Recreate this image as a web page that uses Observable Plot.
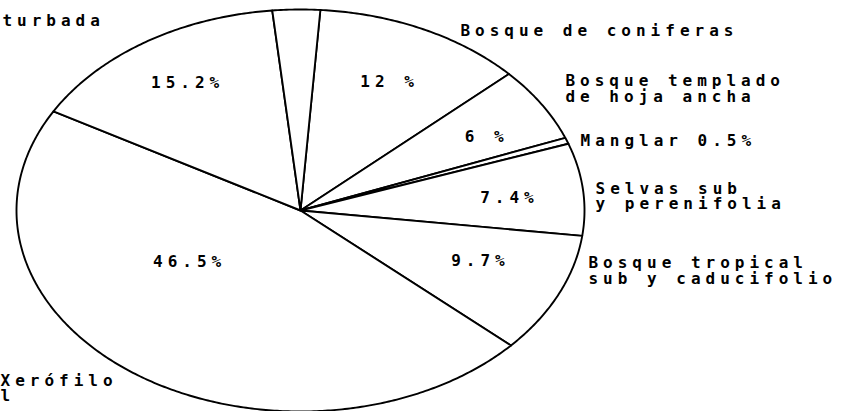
<!DOCTYPE html>
<html><head><meta charset="utf-8">
<script src="https://cdn.jsdelivr.net/npm/d3@7"></script>
<script src="https://cdn.jsdelivr.net/npm/@observablehq/plot@0.6"></script>
<style>
html,body{margin:0;padding:0;background:#fff;overflow:hidden}
#chart svg text{letter-spacing:5px}
</style></head><body><div id="chart"></div>
<script>
// ---- data ----
const categories = ["Bosque de coniferas","Bosque templado de hoja ancha","Manglar","Selvas sub y perenifolia","Bosque tropical sub y caducifolio","Matorral Xerófilo y pastizal","Vegetación perturbada","Otros"];
const values = [12, 6, 0.5, 7.4, 9.7, 46.5, 15.2, 2.7];
const percentLabels = ["12 %","6 %","","7.4%","9.7%","46.5%","15.2%",""];
const nameLabels = ["Bosque de coniferas","Bosque templado\nde hoja ancha","Manglar 0.5%","Selvas sub\ny perenifolia","Bosque tropical\nsub y caducifolio","Matorral Xerófilo\ny pastizal","Vegetación perturbada",""];

// ---- layout (unit ellipse coordinates, not data) ----
const percentPos = [[0.303,0.64],[0.645,0.365],null,[0.725,0.065],[0.623,-0.25],[-0.401,-0.255],[-0.408,0.635],null];
const namePos = [[0.563,0.895],[0.933,0.605],[0.986,0.345],[1.039,0.07],[1.014,-0.30],[-1.52,-0.885],[-1.771,0.945],null];
const startAngle = 0.07; // radians, clockwise from 12 o'clock

// ---- geometry ----
const arcs = d3.pie().sort(null).value(d => d).startAngle(startAngle).endAngle(startAngle + 2*Math.PI)(values);
const slicePts = [];
arcs.forEach((a, i) => {
  const n = Math.max(2, Math.ceil((a.endAngle - a.startAngle) / 0.01));
  slicePts.push({k: i, x: 0, y: 0});
  for (let j = 0; j <= n; j++) {
    const t = a.startAngle + (a.endAngle - a.startAngle) * j / n;
    slicePts.push({k: i, x: Math.sin(t), y: Math.cos(t)});
  }
  slicePts.push({k: i, x: 0, y: 0});
});

const pctData = percentLabels.map((t, i) => ({t, p: percentPos[i]})).filter(d => d.t && d.p);
const nameData = nameLabels.map((t, i) => ({t, p: namePos[i]})).filter(d => d.t && d.p);

const font = "'DejaVu Sans Mono', 'Liberation Mono', monospace";

const chart = Plot.plot({
  width: 850,
  height: 411,
  marginLeft: 16,
  marginRight: 266,
  marginTop: 9,
  marginBottom: 0,
  x: {domain: [-1, 1], axis: null},
  y: {domain: [-1, 1], axis: null},
  style: {fontFamily: font, background: "#fff", overflow: "hidden"},
  marks: [
    Plot.line(slicePts, {x: "x", y: "y", z: "k", stroke: "#000", strokeWidth: 1.9, fill: "#fff", strokeLinejoin: "round"}),
    Plot.text(pctData, {x: d => d.p[0], y: d => d.p[1], text: "t", fontSize: 16, fontWeight: "bold", fill: "#000", textAnchor: "middle", dx: 3}),
    Plot.text(nameData, {x: d => d.p[0], y: d => d.p[1], text: "t", fontSize: 16, fontWeight: "bold", fill: "#000", textAnchor: "start", lineHeight: 0.97})
  ]
});
document.getElementById("chart").appendChild(chart);
</script></body></html>
